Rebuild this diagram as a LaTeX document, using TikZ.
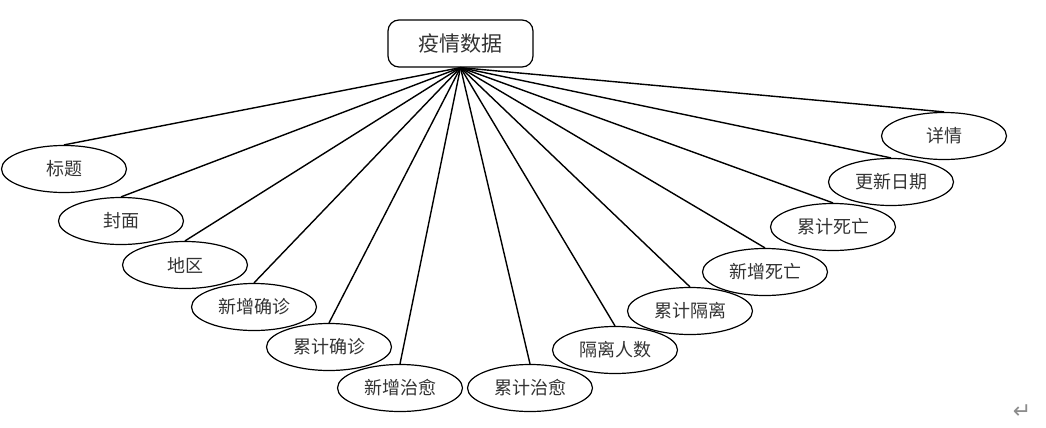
\documentclass[tikz,border=0pt]{standalone}
\usepackage{fontspec}
\newfontfamily\cjk{Noto Sans CJK SC}
\newfontfamily\simbolo{DejaVu Sans}
\usetikzlibrary{shapes.geometric}

\begin{document}
\begin{tikzpicture}[x=1pt,y=-1pt,
	raiz/.style={draw, rounded corners=11pt, line width=1.2pt, minimum width=145pt, minimum height=47pt, inner sep=0pt, text=black!80, font=\cjk\fontsize{21}{21}\selectfont},
	campo/.style={draw, ellipse, line width=1.2pt, minimum width=125pt, minimum height=47pt, inner sep=0pt, text=black!80, font=\cjk\fontsize{18}{18}\selectfont},
	enlace/.style={line width=1.4pt}]
	\useasboundingbox (0,0) rectangle (1046,428);
	
	% Nodo principal
	\node[raiz] (datos) at (460.5,43.5) {疫情数据};
	
	% Campos
	\node[campo] (titulo) at (64,169) {标题};
	\node[campo] (portada) at (121,221) {封面};
	\node[campo] (region) at (185,265) {地区};
	\node[campo] (nuevoconf) at (254,307) {新增确诊};
	\node[campo] (acumconf) at (329,347) {累计确诊};
	\node[campo] (nuevocur) at (400,388) {新增治愈};
	\node[campo] (acumcur) at (530,388) {累计治愈};
	\node[campo] (aislados) at (615,350) {隔离人数};
	\node[campo] (acumais) at (690,311) {累计隔离};
	\node[campo] (nuevomue) at (765,272) {新增死亡};
	\node[campo] (acummue) at (833,227) {累计死亡};
	\node[campo] (fecha) at (891,182) {更新日期};
	\node[campo] (detalle) at (944,136) {详情};
	
	% Enlaces
	\foreach \n in {titulo, portada, region, nuevoconf, acumconf, nuevocur, acumcur, aislados, acumais, nuevomue, acummue, fecha, detalle}
		\draw[enlace] (datos.south) -- (\n.north);
	
	% Marca de parrafo
	\node[text=black!45, font=\simbolo\fontsize{22}{22}\selectfont] (marca) at (1022,412) {↵};
\end{tikzpicture}
\end{document}
